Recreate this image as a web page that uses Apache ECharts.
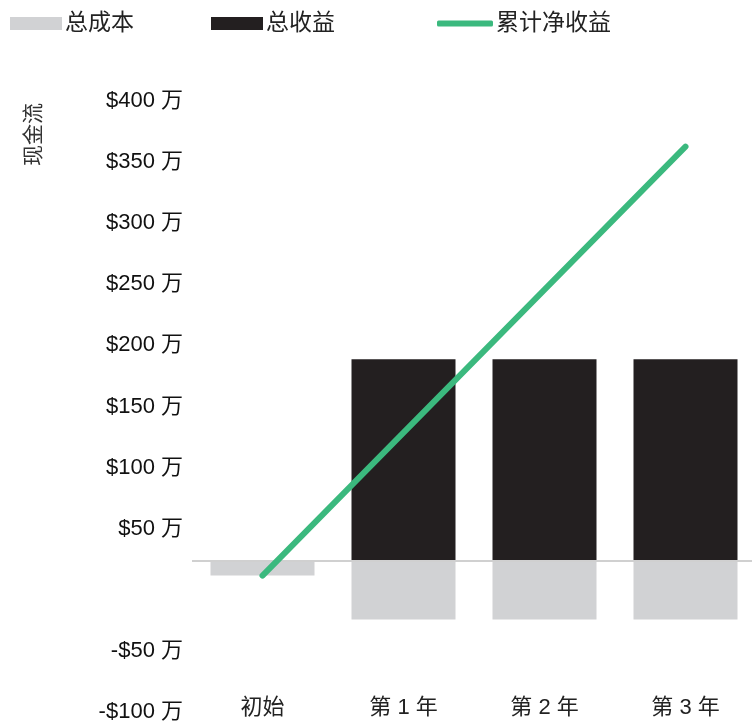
<!DOCTYPE html>
<html>
<head>
<meta charset="utf-8">
<script src="https://cdn.jsdelivr.net/npm/echarts@6/dist/echarts.min.js"></script>
<style>
    html, body { margin: 0; padding: 0; background: #fff; }
    #main { width: 752px; height: 721px; }
</style>
</head>
<body>
<div id="main"></div>
<script>
var categories = ['初始', '第 1 年', '第 2 年', '第 3 年'];
var costValues = [-12, -48, -48, -48];
var revenueValues = [0, 165, 165, 165];
var netValues = [-12, 105, 222, 339];
// tick labels of the printed axis
var yTicks = { min: -100, max: 400, interval: 50 };
// the bars sit on their own baseline, drawn on a hidden axis with the same scale
var dataRange = { min: -123.6, max: 376.4 };

var fontFamily = '"Liberation Sans", Arial, "Noto Sans CJK SC", sans-serif';
var gray = '#d1d2d4';
var black = '#231f20';
var green = '#3bb97e';

var myChart = echarts.init(document.getElementById('main'));

var legendBase = function (left, name, w, h, icon) {
    return {
        left: left,
        top: 7,
        itemWidth: w,
        itemHeight: h,
        itemGap: 0,
        icon: icon,
        selectedMode: false,
        data: [name],
        textStyle: { fontSize: 23, color: '#222', fontFamily: fontFamily, padding: [0, 0, 0, -2] }
    };
};

myChart.setOption({
    backgroundColor: '#fff',
    animation: false,
    legend: [
        legendBase(5, '总成本', 52, 13, 'rect'),
        legendBase(206, '总收益', 52, 13, 'rect'),
        legendBase(432, '累计净收益', 56, 6, 'roundRect')
    ],
    graphic: [{
        type: 'text',
        x: 24,
        y: 166,
        rotation: Math.PI / 2,
        style: {
            text: '现金流',
            fontSize: 21,
            fill: '#333',
            fontFamily: fontFamily
        }
    }],
    grid: {
        left: 192,
        width: 564,
        top: 101,
        bottom: 9,
        outerBoundsMode: 'none',
        containLabel: false
    },
    xAxis: {
        type: 'category',
        data: categories,
        axisLine: { show: false, onZero: false },
        axisTick: { show: false },
        axisLabel: {
            margin: -15,
            fontSize: 22,
            color: '#222',
            fontFamily: fontFamily
        }
    },
    yAxis: [
        {
            type: 'value',
            min: yTicks.min,
            max: yTicks.max,
            interval: yTicks.interval,
            splitLine: { show: false },
            axisLine: { show: false },
            axisTick: { show: false },
            axisLabel: {
                margin: 9,
                fontSize: 22,
                color: '#111',
                fontFamily: fontFamily,
                formatter: function (v) {
                    if (v === 0) return '';
                    return (v < 0 ? '-$' + Math.abs(v) : '$' + v) + ' 万';
                }
            }
        },
        {
            type: 'value',
            show: false,
            min: dataRange.min,
            max: dataRange.max,
            splitLine: { show: false }
        }
    ],
    series: [
        {
            name: '总成本',
            type: 'bar',
            stack: 'cash',
            yAxisIndex: 1,
            barWidth: 104,
            itemStyle: { color: gray },
            data: costValues,
            markLine: {
                silent: true,
                symbol: 'none',
                label: { show: false },
                lineStyle: { color: '#d0d0d0', width: 2, type: 'solid' },
                data: [{ yAxis: 0 }]
            }
        },
        {
            name: '总收益',
            type: 'bar',
            stack: 'cash',
            yAxisIndex: 1,
            barWidth: 104,
            itemStyle: { color: black },
            data: revenueValues
        },
        {
            name: '累计净收益',
            type: 'line',
            yAxisIndex: 1,
            symbol: 'none',
            z: 5,
            lineStyle: { color: green, width: 6, cap: 'round' },
            itemStyle: { color: green },
            data: netValues
        }
    ]
});
</script>
</body>
</html>
